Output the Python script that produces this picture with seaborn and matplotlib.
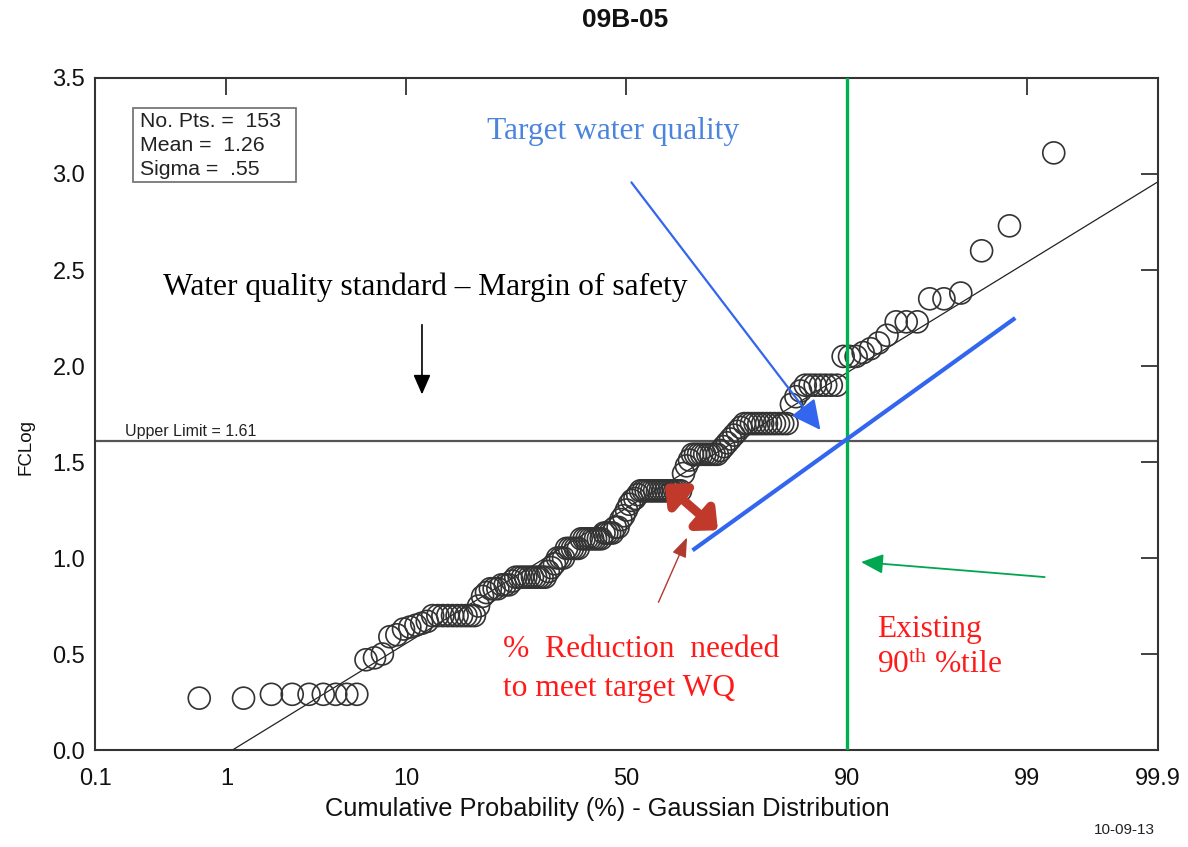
import numpy as np
import pandas as pd
import matplotlib
matplotlib.use("Agg")
import matplotlib.pyplot as plt
import matplotlib.transforms as mtransforms
import seaborn as sns
from statistics import NormalDist
from matplotlib.patches import FancyArrowPatch, Rectangle

# ---- data -------------------------------------------------------------
# Sorted FCLog observations, stored as distinct levels and how often each occurs
FCLOG_LEVELS = [0.27, 0.29, 0.47, 0.48, 0.50, 0.59, 0.60, 0.63, 0.64, 0.65,
                0.66, 0.67, 0.70, 0.75, 0.80, 0.82, 0.84, 0.86, 0.88, 0.90,
                0.93, 0.95, 0.97, 1.00, 1.05, 1.10, 1.13, 1.16, 1.20, 1.22,
                1.25, 1.28, 1.30, 1.31, 1.33, 1.35, 1.44, 1.48, 1.51, 1.54,
                1.56, 1.58, 1.60, 1.62, 1.64, 1.66, 1.68, 1.70, 1.80, 1.84,
                1.87, 1.90, 2.05, 2.07, 2.09, 2.12, 2.16, 2.23, 2.35, 2.38,
                2.60, 2.73, 3.11]
FCLOG_COUNTS = [2, 7, 1, 1, 1, 1, 1, 1, 1, 1,
                1, 1, 10, 1, 1, 1, 3, 3, 1, 10,
                1, 1, 1, 3, 5, 8, 4, 2, 1, 1,
                1, 1, 1, 1, 1, 15, 1, 1, 1, 9,
                1, 1, 1, 1, 1, 1, 1, 12, 1, 1,
                1, 7, 3, 1, 1, 1, 1, 3, 2, 1,
                1, 1, 1]

N_POINTS = 153
MEAN = 1.26
SIGMA = 0.55
UPPER_LIMIT = 1.61
EXISTING_PCTL = 90

PROB_TICKS = [0.1, 1, 10, 50, 90, 99, 99.9]
PROB_LABELS = ["0.1", "1", "10", "50", "90", "99", "99.9"]
Y_TICKS = [0.0, 0.5, 1.0, 1.5, 2.0, 2.5, 3.0, 3.5]

# target line (cumulative %, FCLog) through the upper limit at the 90th percentile
TARGET_PCT = [64.95, 98.81]
TARGET_Y = [1.04, 2.25]

# ---- probability (Gaussian) axis scale ---------------------------------
_nd = NormalDist()
_inv = np.vectorize(_nd.inv_cdf, otypes=[float])
_cdf = np.vectorize(_nd.cdf, otypes=[float])


def pct_to_z(p):
    q = np.clip(np.asarray(p, dtype=float) / 100.0, 1e-9, 1 - 1e-9)
    return _inv(q)


def z_to_pct(z):
    return _cdf(np.asarray(z, dtype=float)) * 100.0


values = np.repeat(FCLOG_LEVELS, FCLOG_COUNTS)
ranks = np.arange(1, len(values) + 1)
df = pd.DataFrame({"pct": ranks / (len(values) + 1) * 100.0, "fclog": values})

# ---- figure -------------------------------------------------------------
sns.set_theme(style="white")
plt.rcParams["font.family"] = ["Liberation Sans", "DejaVu Sans"]
plt.rcParams["mathtext.fontset"] = "custom"
plt.rcParams["mathtext.rm"] = "Liberation Serif"
plt.rcParams["mathtext.it"] = "Liberation Serif:italic"

W, H = 1188, 847
fig = plt.figure(figsize=(W / 100, H / 100), dpi=100)
fig.patch.set_facecolor("white")
ax = fig.add_axes([95 / W, 1 - 750 / H, (1158 - 95) / W, (750 - 78) / H])
ax.set_facecolor("white")
ax.set_xscale("function", functions=(pct_to_z, z_to_pct))
ax.set_xlim(0.1, 99.9)
ax.set_ylim(0, 3.5)

# observations
sns.scatterplot(data=df, x="pct", y="fclog", ax=ax, marker="o", s=250,
                color="#333333", facecolor="none", edgecolor="#333333",
                linewidth=1.2, legend=False, zorder=3)

# fitted normal line from the stated mean and sigma
fit_x = np.array([0.1, 99.9])
ax.plot(fit_x, MEAN + SIGMA * pct_to_z(fit_x), color="#222222", lw=0.9, zorder=2)

# upper limit
ax.axhline(UPPER_LIMIT, color="#555555", lw=1.6, zorder=2)
ax.text(0.028, UPPER_LIMIT + 0.012, f"Upper Limit = {UPPER_LIMIT:.2f}",
        transform=mtransforms.blended_transform_factory(ax.transAxes, ax.transData),
        fontsize=11.5, color="#222222", va="bottom", ha="left")

# existing 90th percentile
ax.axvline(EXISTING_PCTL, color="#00b050", lw=2.4, zorder=4)

# target water quality line
ax.plot(TARGET_PCT, TARGET_Y, color="#3366ee", lw=3.0, solid_capstyle="butt", zorder=4)

# axes styling
ax.set_xticks(PROB_TICKS)
ax.set_xticklabels(PROB_LABELS)
ax.set_yticks(Y_TICKS)
ax.set_yticklabels([f"{v:.1f}" for v in Y_TICKS])
ax.minorticks_off()
ax.tick_params(direction="in", length=12, width=1.3, color="#333333",
               top=True, right=True, labelsize=17, labelcolor="#111111")
ax.tick_params(axis="x", pad=13)
ax.tick_params(axis="y", pad=7)
for s in ax.spines.values():
    s.set_visible(True)
    s.set_color("#333333")
    s.set_linewidth(1.5)

ax.set_xlabel("Cumulative Probability (%) - Gaussian Distribution", fontsize=18.3,
              color="#111111")
ax.xaxis.set_label_coords((607 - 95) / 1063, (750 - 797) / 672)
ax.set_ylabel("FCLog", fontsize=13.5, color="#111111")
ax.yaxis.set_label_coords((34 - 95) / 1063, (750 - 447) / 672)
ax.grid(False)

# title and stamp
fig.text(625 / W, 1 - 20 / H, "09B-05", ha="center", va="center",
         fontsize=19, fontweight="bold", color="#111111")
fig.text(1155 / W, 1 - 830 / H, "10-09-13", ha="right", va="center",
         fontsize=11, color="#222222")

# statistics box
fig.patches.append(Rectangle((133 / W, 1 - 182 / H), (296 - 133) / W, (182 - 108) / H,
                             transform=fig.transFigure, fc="white", ec="#777777",
                             lw=1.3, zorder=5))
fig.text(140 / W, 1 - 112 / H,
         f"No. Pts. =  {N_POINTS}\nMean =  {MEAN:.2f}\nSigma =  {SIGMA:.2f}".replace("0.55", ".55"),
         ha="left", va="top", fontsize=15.3, linespacing=1.32, color="#222222",
         zorder=6)

# ---- annotations (axes-fraction positions) --------------------------------
serif = ["Liberation Serif", "DejaVu Serif"]
FS = 22.7

ax.text(0.369, 0.920, "Target water quality", transform=ax.transAxes,
        family=serif, fontsize=FS, color="#4a84dc", ha="left", va="center")
ax.add_patch(FancyArrowPatch((0.503, 0.848), (0.684, 0.473), transform=ax.transAxes,
                             arrowstyle="-|>,head_length=12,head_width=6",
                             mutation_scale=1.5, color="#3366ee", lw=1.6, zorder=5))

ax.text(0.064, 0.689, "Water quality standard \u2013 Margin of safety",
        transform=ax.transAxes, family=serif, fontsize=FS, color="black",
        ha="left", va="center")
ax.add_patch(FancyArrowPatch((0.3076, 0.637), (0.3076, 0.525), transform=ax.transAxes,
                             arrowstyle="-|>,head_length=8,head_width=3.5",
                             mutation_scale=1.5, color="black", lw=1.2, zorder=5))

# reduction needed: double arrow between data and target line
ax.add_patch(FancyArrowPatch((0.536, 0.396), (0.586, 0.327), transform=ax.transAxes,
                             arrowstyle="<|-|>,head_length=7,head_width=6.5",
                             mutation_scale=1.5, color="#c0392b", lw=6.5, zorder=6,
                             shrinkA=0, shrinkB=0))
ax.add_patch(FancyArrowPatch((0.529, 0.216), (0.558, 0.320), transform=ax.transAxes,
                             arrowstyle="-|>,head_length=8,head_width=3",
                             mutation_scale=1.5, color="#b03a2e", lw=1.0, zorder=5))
ax.text(0.384, 0.150, "%  Reduction  needed", transform=ax.transAxes,
        family=serif, fontsize=FS, color="#ff1a1a", ha="left", va="center")
ax.text(0.384, 0.092, "to meet target WQ", transform=ax.transAxes,
        family=serif, fontsize=FS, color="#ff1a1a", ha="left", va="center")

# existing 90th percentile label and pointer
ax.add_patch(FancyArrowPatch((0.896, 0.257), (0.718, 0.280), transform=ax.transAxes,
                             arrowstyle="-|>,head_length=9,head_width=4",
                             mutation_scale=1.5, color="#00a650", lw=1.3, zorder=5))
ax.text(0.736, 0.180, "Existing", transform=ax.transAxes,
        family=serif, fontsize=FS, color="#ff1a1a", ha="left", va="center")
ax.text(0.736, 0.126, "90$^{\\mathrm{th}}$ %tile", transform=ax.transAxes,
        family=serif, fontsize=FS, color="#ff1a1a", ha="left", va="center")

fig.savefig("out.png", dpi=100, facecolor="white")
